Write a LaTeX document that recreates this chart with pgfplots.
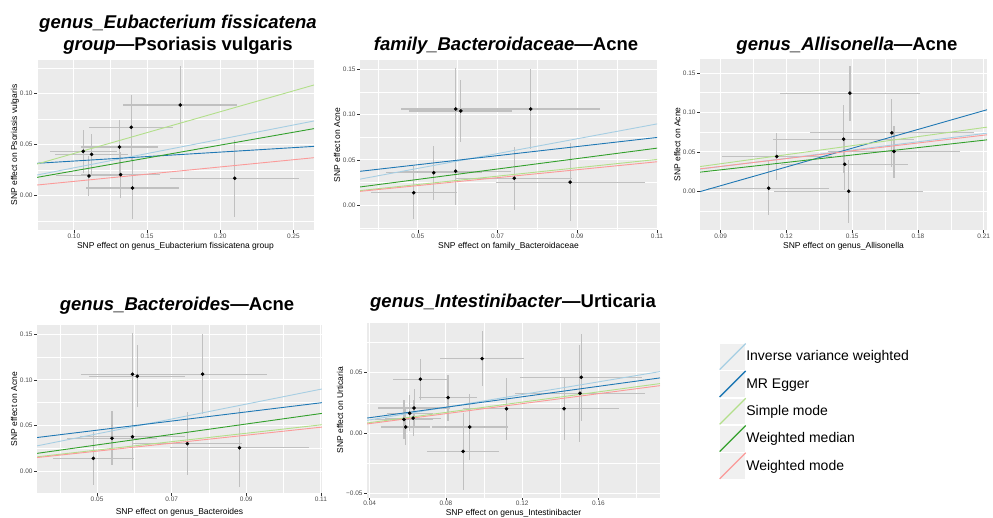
\documentclass[border=0pt]{standalone}
\usepackage{fontspec}
\setmainfont{Liberation Sans}
\usepackage{pgfplots}
\pgfplotsset{compat=1.18}
\definecolor{panelgray}{HTML}{EBEBEB}
\definecolor{legkey}{HTML}{F0F0F0}
\definecolor{tickgray}{HTML}{333333}
\definecolor{labgray}{HTML}{4D4D4D}
\definecolor{errgray}{HTML}{C0C0C0}
\definecolor{ivw}{HTML}{A6CEE3}
\definecolor{egger}{HTML}{1F78B4}
\definecolor{smode}{HTML}{B2DF8A}
\definecolor{wmed}{HTML}{33A02C}
\definecolor{wmode}{HTML}{FB9A99}
\pgfplotsset{
 mrpanel/.style={
  scale only axis, anchor=south west,
  axis background/.style={fill=panelgray, draw=none},
  axis line style={draw=none},
  tick align=outside,
  xtick pos=bottom, ytick pos=left,
  major tick length=2.7pt, minor tick length=0pt,
  tick style={color=tickgray, line width=0.5pt},
  grid=both,
  major grid style={white, line width=1pt},
  minor grid style={white, line width=0.5pt},
  xticklabel style={font=\fontsize{6.5}{7}\selectfont, text=labgray, inner sep=1pt},
  yticklabel style={font=\fontsize{6.5}{7}\selectfont, text=labgray, inner sep=1.5pt},
  xlabel style={font=\fontsize{8.5}{10}\selectfont, at={(axis description cs:0.5,0)}, anchor=center, yshift=-16pt},
  ylabel style={font=\fontsize{8.5}{10}\selectfont, anchor=center},
  scaled ticks=false,
 },
 ylabpos/.style={ylabel style={at={(axis description cs:#1,0.5)}}},
 errs/.style={only marks, mark=*, mark size=1.6pt, color=black, forget plot,
   error bars/.cd, x dir=both, x explicit, y dir=both, y explicit, error mark=none,
   error bar style={color=errgray, line width=1.1pt}},
 mrline/.style={line width=0.9pt, no marks},
}
\pgfplotstableread{
x y ex ey
0.1064 0.0431 0.023 0.021
0.1121 0.0402 0.025 0.020
0.1103 0.0190 0.0225 0.020
0.1312 0.0474 0.026 0.026
0.1319 0.0203 0.027 0.0225
0.1392 0.0667 0.0287 0.032
0.1401 0.0072 0.032 0.030
0.1727 0.0886 0.039 0.038
0.2099 0.0167 0.044 0.038
}\dataA
\pgfplotstableread{
x y ex ey
0.0490 0.0140 0.0108 0.029
0.0540 0.0360 0.012 0.0296
0.0595 0.0377 0.014 0.037
0.0595 0.1061 0.0137 0.045
0.0608 0.1039 0.0129 0.034
0.0783 0.1061 0.0173 0.0435
0.0742 0.0300 0.0146 0.0345
0.0882 0.0256 0.0187 0.043
}\dataB
\pgfplotstableread{
x y ex ey
0.1119 0.0038 0.0276 0.034
0.1156 0.0440 0.025 0.030
0.1461 0.0660 0.032 0.043
0.1466 0.0343 0.029 0.033
0.1484 0.0000 0.034 0.040
0.1490 0.1245 0.032 0.035
0.1681 0.0741 0.0375 0.0435
0.1691 0.0504 0.030 0.033
}\dataC
\pgfplotstableread{
x y ex ey
0.0580 0.0113 0.015 0.016
0.0589 0.0050 0.013 0.015
0.0610 0.0163 0.012 0.015
0.0628 0.0124 0.0145 0.015
0.0633 0.0207 0.019 0.0155
0.0666 0.0445 0.0146 0.017
0.0811 0.0293 0.015 0.019
0.0890 -0.0152 0.019 0.032
0.0925 0.0050 0.020 0.0275
0.0990 0.0616 0.022 0.0225
0.1118 0.0201 0.023 0.0255
0.1420 0.0201 0.0287 0.026
0.1503 0.0329 0.034 0.040
0.1510 0.0462 0.032 0.036
}\dataE
\begin{document}
\begin{tikzpicture}[x=1pt,y=1pt]
\useasboundingbox (0pt,0pt) rectangle (993pt,517pt);
% ---------- Panel 1
\begin{axis}[mrpanel, at={(37pt,287pt)}, width=277pt, height=170pt,
 xmin=0.0748, xmax=0.2641, ymin=-0.034, ymax=0.1327,
 xtick={0.10,0.15,0.20,0.25}, xticklabels={0.10,0.15,0.20,0.25},
 minor xtick={0.075,0.125,0.175,0.225},
 ytick={0,0.05,0.10}, yticklabels={0.00,0.05,0.10},
 minor ytick={-0.025,0.025,0.075,0.125},
 xlabel={SNP effect on genus\_Eubacterium fissicatena group},
 ylabel={SNP effect on Psoriasis vulgaris}, ylabpos=-0.0794]
\addplot[errs] table[x=x,y=y,x error=ex,y error=ey]{\dataA};
\addplot[ivw, mrline] coordinates {(0.0748,0.0199) (0.2641,0.0729)};
\addplot[egger, mrline] coordinates {(0.0748,0.0314) (0.2641,0.0480)};
\addplot[smode, mrline] coordinates {(0.0748,0.0307) (0.2641,0.1082)};
\addplot[wmed, mrline] coordinates {(0.0748,0.0176) (0.2641,0.0654)};
\addplot[wmode, mrline] coordinates {(0.0748,0.0101) (0.2641,0.0369)};
\end{axis}
% ---------- Panel 2
\begin{axis}[mrpanel, at={(360pt,287pt)}, width=297pt, height=170pt,
 xmin=0.0355, xmax=0.1100, ymin=-0.027, ymax=0.160,
 xtick={0.05,0.07,0.09,0.11}, xticklabels={0.05,0.07,0.09,0.11},
 minor xtick={0.04,0.06,0.08,0.10},
 ytick={0,0.05,0.10,0.15}, yticklabels={0.00,0.05,0.10,0.15},
 minor ytick={-0.025,0.025,0.075,0.125},
 xlabel={SNP effect on family\_Bacteroidaceae},
 ylabel={SNP effect on Acne}, ylabpos=-0.0774]
\addplot[errs] table[x=x,y=y,x error=ex,y error=ey]{\dataB};
\addplot[ivw, mrline] coordinates {(0.033,0.0269) (0.111,0.0905)};
\addplot[egger, mrline] coordinates {(0.033,0.0363) (0.111,0.0753)};
\addplot[smode, mrline] coordinates {(0.033,0.0152) (0.111,0.0511)};
\addplot[wmed, mrline] coordinates {(0.033,0.0189) (0.111,0.0636)};
\addplot[wmode, mrline] coordinates {(0.033,0.0144) (0.111,0.0485)};
\end{axis}
% ---------- Panel 3
\begin{axis}[mrpanel, at={(700pt,287pt)}, width=287pt, height=171pt,
 xmin=0.0806, xmax=0.2115, ymin=-0.0492, ymax=0.1678,
 xtick={0.09,0.12,0.15,0.18,0.21}, xticklabels={0.09,0.12,0.15,0.18,0.21},
 minor xtick={0.105,0.135,0.165,0.195},
 ytick={0,0.05,0.10,0.15}, yticklabels={0.00,0.05,0.10,0.15},
 minor ytick={-0.025,0.025,0.075,0.125},
 xlabel={SNP effect on genus\_Allisonella},
 ylabel={SNP effect on Acne}, ylabpos=-0.079]
\addplot[errs] table[x=x,y=y,x error=ex,y error=ey]{\dataC};
\addplot[ivw, mrline] coordinates {(0.0806,0.0280) (0.2115,0.0737)};
\addplot[egger, mrline] coordinates {(0.0806,-0.0005) (0.2115,0.1034)};
\addplot[smode, mrline] coordinates {(0.0806,0.0313) (0.2115,0.0813)};
\addplot[wmed, mrline] coordinates {(0.0806,0.0242) (0.2115,0.0652)};
\addplot[wmode, mrline] coordinates {(0.0806,0.0284) (0.2115,0.0716)};
\end{axis}
% ---------- Panel 4
\begin{axis}[mrpanel, at={(37pt,24pt)}, width=285pt, height=168pt,
 xmin=0.0339, xmax=0.1103, ymin=-0.024, ymax=0.160,
 xtick={0.05,0.07,0.09,0.11}, xticklabels={0.05,0.07,0.09,0.11},
 minor xtick={0.04,0.06,0.08,0.10},
 ytick={0,0.05,0.10,0.15}, yticklabels={0.00,0.05,0.10,0.15},
 minor ytick={-0.025,0.025,0.075,0.125},
 xlabel={SNP effect on genus\_Bacteroides},
 xlabel style={yshift=-3pt},
 ylabel={SNP effect on Acne}, ylabpos=-0.0807]
\addplot[errs] table[x=x,y=y,x error=ex,y error=ey]{\dataB};
\addplot[ivw, mrline] coordinates {(0.033,0.0269) (0.111,0.0905)};
\addplot[egger, mrline] coordinates {(0.033,0.0363) (0.111,0.0753)};
\addplot[smode, mrline] coordinates {(0.033,0.0152) (0.111,0.0511)};
\addplot[wmed, mrline] coordinates {(0.033,0.0189) (0.111,0.0636)};
\addplot[wmode, mrline] coordinates {(0.033,0.0144) (0.111,0.0485)};
\end{axis}
% ---------- Panel 5
\begin{axis}[mrpanel, at={(367pt,19.5pt)}, width=293pt, height=174.5pt,
 xmin=0.0386, xmax=0.1923, ymin=-0.0533, ymax=0.091,
 xtick={0.04,0.08,0.12,0.16}, xticklabels={0.04,0.08,0.12,0.16},
 minor xtick={0.06,0.10,0.14,0.18},
 ytick={-0.05,0,0.05}, yticklabels={−0.05,0.00,0.05},
 minor ytick={-0.025,0.025,0.075},
 xlabel={SNP effect on genus\_Intestinibacter},
 ylabel={SNP effect on Urticaria}, ylabpos=-0.0922,
 legend cell align=left,
 legend image code/.code={
   \fill[legkey, draw=white, line width=0.5pt] (0pt,-13.35pt) rectangle (26pt,13.35pt);
   \draw[#1, line width=1.3pt] (0pt,-13pt) -- (26pt,13pt);
 },
 legend style={at={(axis description cs:1.2014,0.8854)}, anchor=north west,
   draw=none, fill=none, inner sep=0pt, outer sep=0pt, row sep=0pt,
   font=\fontsize{14}{16}\selectfont,
   nodes={inner sep=0pt, minimum height=26.7pt, anchor=west},
   /tikz/every even column/.append style={column sep=10pt}},
]
\addplot[errs] table[x=x,y=y,x error=ex,y error=ey]{\dataE};
\addplot[ivw, mrline] coordinates {(0.0386,0.0105) (0.1923,0.0508)};
\addlegendentry{Inverse variance weighted}
\addplot[egger, mrline] coordinates {(0.0386,0.0124) (0.1923,0.0456)};
\addlegendentry{MR Egger}
\addplot[smode, mrline] coordinates {(0.0386,0.0083) (0.1923,0.0409)};
\addlegendentry{Simple mode}
\addlegendimage{wmed, mrline}
\addlegendentry{Weighted median}
\addplot[wmode, mrline] coordinates {(0.0386,0.0075) (0.1923,0.0392)};
\addlegendentry{Weighted mode}
\end{axis}
% ---------- Titles
\begin{scope}[every node/.style={anchor=base, font=\fontsize{18.5}{22}\selectfont\bfseries, inner sep=0pt}]
\node at (178pt,488pt) {\itshape genus\_Eubacterium fissicatena};
\node at (178pt,466pt) {\textit{group}—Psoriasis vulgaris};
\node at (506pt,466pt) {\textit{family\_Bacteroidaceae}—Acne};
\node at (847pt,466pt) {\textit{genus\_Allisonella}—Acne};
\node at (177pt,206pt) {\textit{genus\_Bacteroides}—Acne};
\node at (513pt,209pt) {\textit{genus\_Intestinibacter}—Urticaria};
\end{scope}
\end{tikzpicture}
\end{document}
